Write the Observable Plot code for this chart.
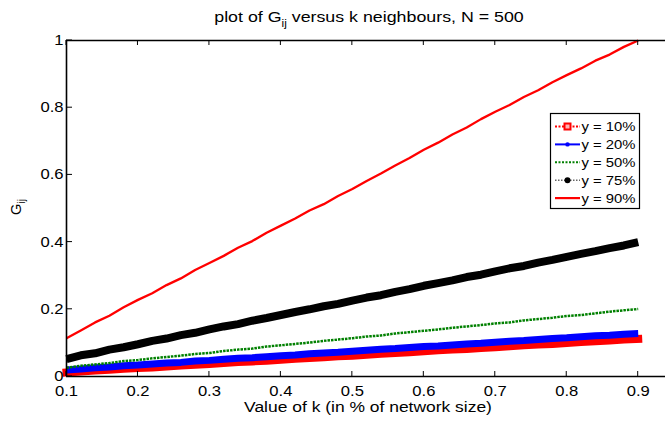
<!DOCTYPE html>
<html>
<head>
<meta charset="utf-8">
<script src="https://cdn.jsdelivr.net/npm/d3@7"></script>
<script src="https://cdn.jsdelivr.net/npm/@observablehq/plot@0.6"></script>
<style>
html, body { margin: 0; padding: 0; background: #fff; }
#chart svg { display: block; }
</style>
</head>
<body>
<div id="chart"></div>
<script>
// ---- data ----
const kValues = [0.10,0.12,0.14,0.16,0.18,0.20,0.22,0.24,0.26,0.28,0.30,0.32,0.34,0.36,0.38,0.40,0.42,0.44,0.46,0.48,0.50,0.52,0.54,0.56,0.58,0.60,0.62,0.64,0.66,0.68,0.70,0.72,0.74,0.76,0.78,0.80,0.82,0.84,0.86,0.88,0.90];

const g10 = [0.012,0.015,0.018,0.020,0.023,0.025,0.027,0.030,0.033,0.035,0.037,0.040,0.043,0.045,0.047,0.050,0.053,0.055,0.057,0.060,0.062,0.065,0.068,0.070,0.072,0.075,0.078,0.080,0.082,0.085,0.087,0.090,0.093,0.095,0.097,0.100,0.103,0.105,0.107,0.110,0.112];
const g20 = [0.019,0.022,0.026,0.028,0.032,0.034,0.037,0.040,0.042,0.046,0.048,0.051,0.054,0.056,0.059,0.062,0.064,0.068,0.070,0.072,0.075,0.078,0.081,0.083,0.086,0.089,0.091,0.094,0.097,0.099,0.102,0.105,0.107,0.110,0.113,0.115,0.118,0.121,0.123,0.126,0.128];
const g50 = [0.026,0.032,0.036,0.040,0.046,0.049,0.054,0.058,0.062,0.067,0.070,0.076,0.080,0.083,0.089,0.093,0.097,0.101,0.106,0.110,0.114,0.119,0.122,0.128,0.132,0.136,0.140,0.145,0.149,0.153,0.158,0.161,0.167,0.171,0.175,0.180,0.183,0.188,0.193,0.197,0.201];
const g75 = [0.052,0.063,0.069,0.080,0.087,0.096,0.106,0.113,0.123,0.130,0.140,0.149,0.156,0.166,0.174,0.183,0.192,0.200,0.209,0.216,0.226,0.235,0.242,0.252,0.260,0.270,0.278,0.286,0.296,0.303,0.313,0.322,0.329,0.339,0.347,0.356,0.365,0.373,0.382,0.390,0.400];
const g90 = [0.114,0.137,0.161,0.181,0.206,0.228,0.248,0.272,0.292,0.317,0.338,0.359,0.383,0.403,0.428,0.449,0.470,0.494,0.513,0.537,0.558,0.582,0.604,0.628,0.650,0.675,0.696,0.720,0.741,0.766,0.788,0.808,0.832,0.852,0.876,0.897,0.917,0.940,0.958,0.981,1.000];

const seriesNames = ["y = 10%", "y = 20%", "y = 50%", "y = 75%", "y = 90%"];
const xTicks = [0.1,0.2,0.3,0.4,0.5,0.6,0.7,0.8,0.9];
const xTickLabels = ["0.1","0.2","0.3","0.4","0.5","0.6","0.7","0.8","0.9"];
const yTicks = [0,0.2,0.4,0.6,0.8,1];
const yTickLabels = ["0","0.2","0.4","0.6","0.8","1"];
const titleMain = "plot of G", titleSub = "ij", titleRest = " versus k neighbours, N = 500";
const xLabelText = "Value of k (in % of network size)";
const yLabelMain = "G", yLabelSub = "ij";

// ---- styles ----
const FONT = "'Liberation Sans', Arial, Helvetica, sans-serif";
const SX = 1.1875; // horizontal stretch of the reference's text
const styles = [
  {stroke: "#ff0000", width: 8, dash: null, cap: "square"},
  {stroke: "#0000ff", width: 7, dash: null, cap: "butt"},
  {stroke: "#008000", width: 2.5, dash: "2.5,1", cap: "butt"},
  {stroke: "#000000", width: 8, dash: null, cap: "butt"},
  {stroke: "#ff0000", width: 2.3, dash: null, cap: "butt"}
];
const allValues = [g10, g20, g50, g75, g90];

const lineMarks = allValues.map((vals, si) =>
  Plot.line(kValues.map((k, i) => ({k, g: vals[i], s: seriesNames[si]})), {
    x: "k", y: "g",
    stroke: styles[si].stroke,
    strokeWidth: styles[si].width,
    strokeDasharray: styles[si].dash,
    strokeLinecap: styles[si].cap,
    strokeLinejoin: "round"
  })
);

const chart = Plot.plot({
  width: 665,
  height: 421,
  marginLeft: 66,
  marginRight: 0,
  marginTop: 40,
  marginBottom: 45,
  x: {domain: [0.1, 0.9382]},
  y: {domain: [0, 1]},
  style: {fontFamily: FONT, fontSize: "14px", color: "#000", background: "#fff"},
  marks: [
    ...lineMarks,
    Plot.ruleY([0, 1], {stroke: "#000", strokeWidth: 1.6}),
    Plot.ruleX([0.1], {stroke: "#000", strokeWidth: 1.6}),
    Plot.axisX({ticks: xTicks, tickSize: 0, tickPadding: 10, label: null,
      tickFormat: d => xTickLabels[xTicks.indexOf(d)], fill: "#000"}),
    Plot.axisY({ticks: yTicks, tickSize: 0, tickPadding: 3, label: null,
      tickFormat: d => yTickLabels[yTicks.indexOf(d)], fill: "#000"})
  ]
});
document.getElementById("chart").appendChild(chart);

const svg = d3.select(chart);
const xs = chart.scale("x"), ys = chart.scale("y");
const X = v => xs.apply(v), Y = v => ys.apply(v);

// stretch axis tick labels horizontally like the reference
chart.querySelectorAll('g[aria-label="x-axis tick label"] text, g[aria-label="y-axis tick label"] text').forEach(el => {
  const x = +(el.getAttribute("x") || 0);
  const t = el.getAttribute("transform") || "";
  el.setAttribute("transform", `${t} translate(${x},0) scale(${SX},1) translate(${-x},0)`);
});

// inward ticks (MATLAB style)
const tk = svg.append("g").attr("stroke", "#000").attr("stroke-width", 1);
const y0 = Y(0), y1 = Y(1), x0 = X(0.1);
xTicks.forEach(v => {
  tk.append("line").attr("x1", X(v)).attr("x2", X(v)).attr("y1", y0).attr("y2", y0 - 5);
  tk.append("line").attr("x1", X(v)).attr("x2", X(v)).attr("y1", y1).attr("y2", y1 + 5);
});
yTicks.forEach(v => {
  tk.append("line").attr("x1", x0).attr("x2", x0 + 6).attr("y1", Y(v)).attr("y2", Y(v));
});

// title
const tg = svg.append("g").attr("transform", `translate(369,22) scale(${SX},1)`);
const tt = tg.append("text").attr("text-anchor", "middle").attr("font-family", FONT).attr("font-size", 15).attr("fill", "#000");
tt.append("tspan").text(titleMain);
tt.append("tspan").attr("font-size", 10).attr("dy", 5).text(titleSub);
tt.append("tspan").attr("dy", -5).text(titleRest);

// x label
svg.append("g").attr("transform", `translate(368,412) scale(${SX},1)`)
  .append("text").attr("text-anchor", "middle").attr("font-family", FONT).attr("font-size", 14.7).attr("fill", "#000")
  .text(xLabelText);

// y label (rotated)
const yl = svg.append("text").attr("transform", "translate(20.5,207) rotate(-90)")
  .attr("text-anchor", "middle").attr("font-family", FONT).attr("font-size", 14.7).attr("fill", "#000");
yl.append("tspan").text(yLabelMain);
yl.append("tspan").attr("font-size", 10).attr("dy", 4).text(yLabelSub);

// legend
const lg = svg.append("g").attr("text-anchor", "start");
lg.append("rect").attr("x", 550.5).attr("y", 113.5).attr("width", 89).attr("height", 95)
  .attr("fill", "#ffffff").attr("stroke", "#000000").attr("stroke-width", 1.2)
  .style("stroke", "#000").style("fill", "#fff");
const legendStyles = [
  {stroke: "#ff0000", dash: "2,1.5", w: 2, marker: "square", mfill: "#ffb3b3", mstroke: "#ff0000"},
  {stroke: "#0000ff", dash: null, w: 2, marker: "dot", r: 2.2, mfill: "#0000ff"},
  {stroke: "#008000", dash: "2,1.5", w: 2, marker: null},
  {stroke: "#666666", dash: "1.5,1.5", w: 1.5, marker: "dot", r: 3, mfill: "#000"},
  {stroke: "#ff0000", dash: null, w: 2.2, marker: null}
];
seriesNames.forEach((name, i) => {
  const cy = 126.5 + i * 17.9;
  const st = legendStyles[i];
  lg.append("line").attr("x1", 555).attr("x2", 580).attr("y1", cy).attr("y2", cy)
    .attr("stroke", st.stroke).attr("stroke-width", st.w).attr("stroke-dasharray", st.dash);
  if (st.marker === "square") {
    lg.append("rect").attr("x", 564.5).attr("y", cy - 3).attr("width", 6).attr("height", 6)
      .attr("fill", st.mfill).attr("stroke", st.mstroke).attr("stroke-width", 2);
  } else if (st.marker === "dot") {
    lg.append("circle").attr("cx", 567.5).attr("cy", cy).attr("r", st.r).attr("fill", st.mfill);
  }
  lg.append("g").attr("transform", `translate(581.5,${cy}) scale(${SX},1)`)
    .append("text").attr("text-anchor", "start").attr("dy", "0.36em").attr("font-family", FONT).attr("font-size", 12.5).attr("fill", "#000")
    .text(name);
});
</script>
</body>
</html>
